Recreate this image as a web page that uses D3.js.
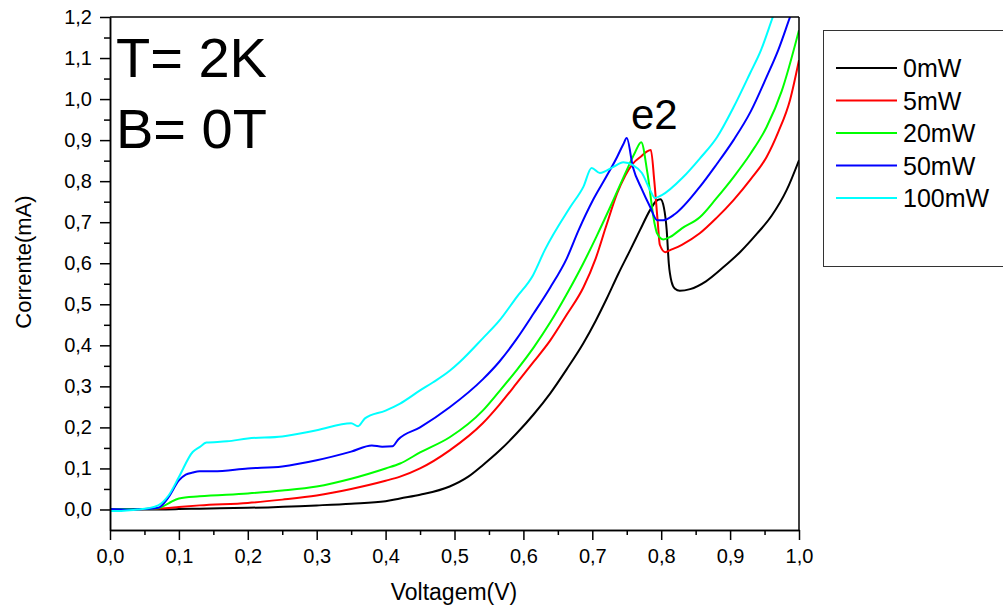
<!DOCTYPE html>
<html>
<head>
<meta charset="utf-8">
<script src="https://cdn.jsdelivr.net/npm/d3@7"></script>
<style>
  body { margin: 0; background: #fff; }
  svg { display: block; font-family: Arial, "Liberation Sans", sans-serif; }
</style>
</head>
<body>
<svg id="chart" width="1003" height="610"></svg>
<script>
// series: [voltage (V), current (mA)]
const serie0mW = [[0,0],[0.05,0],[0.1,0.001],[0.13,0.002],[0.2,0.004],[0.3,0.01],[0.35,0.014],[0.4,0.02],[0.421,0.027],[0.45,0.036],[0.493,0.056],[0.52,0.08],[0.541,0.108],[0.565,0.143],[0.59,0.185],[0.615,0.232],[0.639,0.283],[0.663,0.342],[0.687,0.405],[0.705,0.46],[0.721,0.514],[0.738,0.575],[0.755,0.632],[0.769,0.68],[0.784,0.73],[0.793,0.752],[0.799,0.756],[0.804,0.735],[0.808,0.68],[0.811,0.6],[0.815,0.555],[0.82,0.538],[0.827,0.533],[0.842,0.537],[0.865,0.556],[0.89,0.59],[0.915,0.628],[0.939,0.672],[0.96,0.715],[0.982,0.778],[1.0,0.851]];
const serie5mW = [[0,0.001],[0.05,0.001],[0.08,0.003],[0.1,0.006],[0.13,0.01],[0.2,0.016],[0.25,0.024],[0.3,0.034],[0.35,0.05],[0.4,0.07],[0.421,0.08],[0.45,0.1],[0.493,0.144],[0.541,0.21],[0.565,0.255],[0.59,0.307],[0.615,0.36],[0.639,0.412],[0.663,0.475],[0.687,0.541],[0.705,0.612],[0.72,0.69],[0.736,0.77],[0.759,0.843],[0.772,0.862],[0.779,0.872],[0.785,0.876],[0.79,0.8],[0.795,0.7],[0.798,0.645],[0.806,0.627],[0.813,0.632],[0.83,0.645],[0.856,0.673],[0.88,0.71],[0.905,0.754],[0.93,0.805],[0.953,0.859],[0.97,0.92],[0.987,0.998],[1.0,1.095]];
const serie20mW = [[0,0.001],[0.05,0.001],[0.07,0.003],[0.085,0.015],[0.1,0.027],[0.13,0.032],[0.2,0.039],[0.25,0.046],[0.3,0.056],[0.35,0.075],[0.4,0.1],[0.421,0.112],[0.45,0.139],[0.493,0.176],[0.541,0.241],[0.565,0.288],[0.59,0.339],[0.615,0.395],[0.639,0.456],[0.663,0.525],[0.687,0.6],[0.706,0.665],[0.726,0.737],[0.75,0.827],[0.762,0.87],[0.771,0.895],[0.78,0.82],[0.79,0.7],[0.794,0.673],[0.803,0.658],[0.813,0.664],[0.83,0.685],[0.856,0.712],[0.88,0.758],[0.905,0.81],[0.93,0.868],[0.953,0.932],[0.975,1.02],[1.0,1.168]];
const serie50mW = [[0,0.001],[0.03,0],[0.05,0.001],[0.07,0.004],[0.085,0.03],[0.1,0.071],[0.11,0.085],[0.12,0.09],[0.13,0.093],[0.15,0.093],[0.2,0.1],[0.25,0.105],[0.3,0.12],[0.35,0.141],[0.38,0.156],[0.395,0.153],[0.41,0.154],[0.418,0.17],[0.45,0.2],[0.493,0.249],[0.541,0.317],[0.565,0.36],[0.59,0.415],[0.615,0.478],[0.639,0.541],[0.663,0.612],[0.68,0.68],[0.701,0.754],[0.72,0.81],[0.736,0.859],[0.745,0.89],[0.75,0.905],[0.759,0.834],[0.772,0.78],[0.784,0.737],[0.794,0.705],[0.803,0.705],[0.82,0.72],[0.856,0.786],[0.88,0.84],[0.905,0.9],[0.93,0.97],[0.953,1.054],[0.97,1.12],[0.987,1.2],[1.0,1.26]];
const serie100mW = [[0,-0.004],[0.02,-0.003],[0.04,0],[0.055,0.003],[0.07,0.01],[0.085,0.034],[0.1,0.079],[0.12,0.14],[0.13,0.152],[0.14,0.163],[0.17,0.166],[0.2,0.173],[0.25,0.178],[0.3,0.193],[0.35,0.21],[0.36,0.203],[0.37,0.222],[0.4,0.241],[0.421,0.258],[0.45,0.29],[0.469,0.31],[0.493,0.338],[0.508,0.36],[0.541,0.417],[0.565,0.46],[0.59,0.517],[0.614,0.571],[0.631,0.632],[0.668,0.737],[0.687,0.786],[0.699,0.832],[0.711,0.82],[0.73,0.834],[0.745,0.846],[0.759,0.839],[0.772,0.82],[0.784,0.778],[0.791,0.759],[0.801,0.766],[0.832,0.81],[0.856,0.855],[0.881,0.907],[0.905,0.98],[0.929,1.063],[0.945,1.12],[0.962,1.2],[0.975,1.26]];

const seriesNames = ["0mW", "5mW", "20mW", "50mW", "100mW"];
const seriesColors = ["#000000", "#ff0000", "#00ff00", "#0000ff", "#00ffff"];
const seriesData = [serie0mW, serie5mW, serie20mW, serie50mW, serie100mW];

const xTicks = [0, 0.1, 0.2, 0.3, 0.4, 0.5, 0.6, 0.7, 0.8, 0.9, 1.0];
const xMinor = [0.05, 0.15, 0.25, 0.35, 0.45, 0.55, 0.65, 0.75, 0.85, 0.95];
const yTicks = [0, 0.1, 0.2, 0.3, 0.4, 0.5, 0.6, 0.7, 0.8, 0.9, 1.0, 1.1, 1.2];
const yMinor = [0.05, 0.15, 0.25, 0.35, 0.45, 0.55, 0.65, 0.75, 0.85, 0.95, 1.05, 1.15];

const svg = d3.select("#chart");
const plotL = 110, plotR = 799, plotT = 17, plotB = 530;

const x = d3.scaleLinear().domain([0, 1]).range([plotL, plotR]);
const y = d3.scaleLinear().domain([-0.05, 1.2]).range([plotB, plotT]);
const fmt = d => d3.format(".1f")(d).replace(".", ",");

svg.append("rect").attr("width", 1003).attr("height", 610).attr("fill", "#fff");

svg.append("clipPath").attr("id", "plotclip")
  .append("rect").attr("x", plotL).attr("y", plotT).attr("width", plotR - plotL).attr("height", plotB - plotT);

// curves
const line = d3.line().curve(d3.curveMonotoneX).x(d => x(d[0])).y(d => y(d[1]));
svg.append("g").attr("clip-path", "url(#plotclip)")
  .selectAll("path")
  .data(seriesData)
  .enter().append("path")
  .attr("d", line)
  .attr("fill", "none")
  .attr("stroke", (d, i) => seriesColors[i])
  .attr("stroke-width", 2)
  .attr("stroke-linejoin", "round");

// frame
svg.append("line").attr("x1", plotL).attr("x2", plotR).attr("y1", plotT).attr("y2", plotT)
  .attr("stroke", "#000").attr("stroke-width", 1.5);
svg.append("line").attr("x1", plotR).attr("x2", plotR).attr("y1", plotT).attr("y2", plotB)
  .attr("stroke", "#000").attr("stroke-width", 1.5);

// axes
const styleAxis = g => {
  g.select(".domain").attr("stroke", "#000").attr("stroke-width", 1.5);
  g.selectAll(".tick line").attr("stroke", "#000").attr("stroke-width", 1.5);
  g.selectAll("text").attr("font-size", 20).attr("fill", "#000")
    .attr("font-family", "Arial, 'Liberation Sans', sans-serif");
};

svg.append("g").attr("transform", `translate(0,${plotB})`)
  .call(d3.axisBottom(x).tickValues(xMinor).tickSize(5).tickFormat("").tickSizeOuter(0))
  .call(styleAxis);
svg.append("g").attr("transform", `translate(0,${plotB})`)
  .call(d3.axisBottom(x).tickValues(xTicks).tickSize(10).tickPadding(9).tickFormat(fmt).tickSizeOuter(0))
  .call(styleAxis);

svg.append("g").attr("transform", `translate(${plotL},0)`)
  .call(d3.axisLeft(y).tickValues(yMinor).tickSize(6).tickFormat("").tickSizeOuter(0))
  .call(styleAxis);
svg.append("g").attr("transform", `translate(${plotL},0)`)
  .call(d3.axisLeft(y).tickValues(yTicks).tickSize(10).tickPadding(8).tickFormat(fmt).tickSizeOuter(0))
  .call(styleAxis);

// axis titles
svg.append("text").attr("x", 454).attr("y", 600).attr("text-anchor", "middle")
  .attr("font-size", 23).text("Voltagem(V)");
svg.append("text").attr("transform", "translate(31,262) rotate(-90)").attr("text-anchor", "middle")
  .attr("font-size", 22).text("Corrente(mA)");

// annotations
svg.append("text").attr("x", 116).attr("y", 77).attr("font-size", 56).text("T= 2K");
svg.append("text").attr("x", 116).attr("y", 148).attr("font-size", 56).text("B= 0T");
svg.append("text").attr("x", 631).attr("y", 129).attr("font-size", 42).text("e2");

// legend
const legend = svg.append("g");
legend.append("rect").attr("x", 823.5).attr("y", 30.5).attr("width", 220).attr("height", 236)
  .attr("fill", "#fff").attr("stroke", "#333").attr("stroke-width", 1);
const rows = legend.selectAll("g.row").data(seriesNames).enter().append("g")
  .attr("class", "row")
  .attr("transform", (d, i) => `translate(836,${68 + i * 32.5})`);
rows.append("line").attr("x1", 0).attr("x2", 61)
  .attr("stroke", (d, i) => seriesColors[i]).attr("stroke-width", 2);
rows.append("text").attr("x", 67).attr("y", 9).attr("font-size", 25).text(d => d);
</script>
</body>
</html>
